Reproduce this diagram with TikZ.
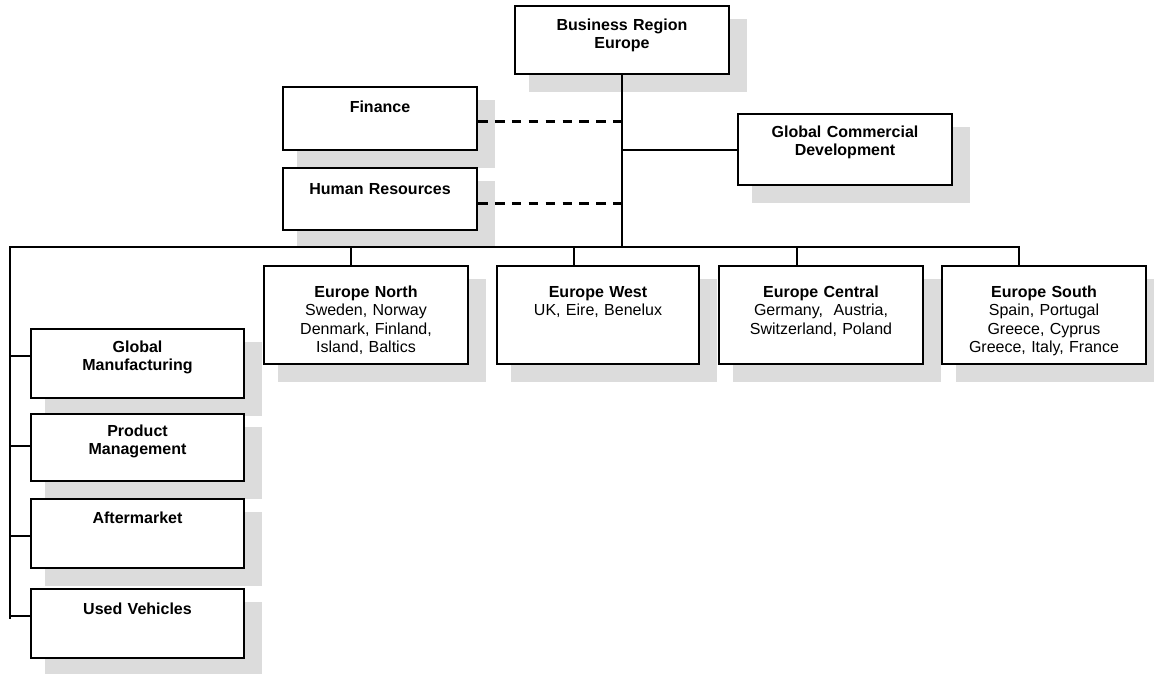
\documentclass[tikz,border=0pt]{standalone}
\usepackage{fontspec}
\setmainfont{Liberation Sans}
\usetikzlibrary{backgrounds}
\definecolor{shadowgray}{RGB}{220,220,220}

\tikzset{
    orgbox/.style = {draw, line width = 2pt, fill = white, inner sep = 0pt,
        align = center, anchor = north west, font = \fontsize{16}{18.4}\selectfont},
    boxdim/.style n args = {3}{text width = #1pt, text height = #2pt, text depth = #3pt},
    link/.style = {line width = 2pt},
    staff/.style = {line width = 3pt, dash pattern = on 9.6pt off 7.3pt},
    boxshadow/.style = {fill = shadowgray}
}

\begin{document}
\begin{tikzpicture}[x = 1pt, y = -1pt]
    \useasboundingbox (0,0) rectangle (1154,673);
    % head and staff
    \node[orgbox, boxdim = {214}{24.5}{43.5}] (bre) at (514,5) {\textbf{Business Region}\\\textbf{Europe}};
    \node[orgbox, boxdim = {194}{25.5}{37.5}] (fin) at (282,86) {\textbf{Finance}};
    \node[orgbox, boxdim = {194}{26.5}{35.5}] (hr) at (282,167) {\textbf{Human Resources}};
    \node[orgbox, boxdim = {214}{23.5}{47.5}] (gcd) at (737,113) {\textbf{Global Commercial}\\\textbf{Development}};
    % regions
    \node[orgbox, boxdim = {204}{31.5}{66.5}] (north) at (263,265) {\textbf{Europe North}\\Sweden, Norway\\Denmark, Finland,\\Island, Baltics};
    \node[orgbox, boxdim = {202}{31.5}{66.5}] (west) at (496,265) {\textbf{Europe West}\\UK, Eire, Benelux};
    \node[orgbox, boxdim = {204}{31.5}{66.5}] (central) at (718,265) {\textbf{Europe Central}\\Germany,\ \ Austria,\\Switzerland, Poland};
    \node[orgbox, boxdim = {204}{31.5}{66.5}] (south) at (941,265) {\textbf{Europe South}\\Spain, Portugal\\Greece, Cyprus\\Greece, Italy, France};
    % global functions
    \node[orgbox, boxdim = {213}{23.5}{45.5}] (gm) at (30,328) {\textbf{Global}\\\textbf{Manufacturing}};
    \node[orgbox, boxdim = {213}{22.5}{44.5}] (pm) at (30,413) {\textbf{Product}\\\textbf{Management}};
    \node[orgbox, boxdim = {213}{24.5}{44.5}] (am) at (30,498) {\textbf{Aftermarket}};
    \node[orgbox, boxdim = {213}{25.5}{43.5}] (uv) at (30,588) {\textbf{Used Vehicles}};

    \begin{scope}[on background layer]
        \foreach \n in {bre, fin, hr, gcd, north, west, central, south, gm, pm, am, uv}
            \fill[boxshadow] ([shift = {(15,14)}]\n.north west) rectangle ([shift = {(17,17)}]\n.south east);
    \end{scope}

    % connectors
    \coordinate (bus) at (10,247);
    \draw[link] (bre.south) -- (bre.south |- bus);
    \draw[link] (gcd.west) -- (gcd.west -| bre.south);
    \draw[staff] ([yshift = -3pt]fin.east) -- ([yshift = -3pt]fin.east -| bre.south);
    \draw[staff] ([yshift = -4pt]hr.east) -- ([yshift = -4pt]hr.east -| bre.south);
    \draw[link] ([yshift = 5pt]uv.west -| bus) -- (bus) -- ([xshift = -25pt]south.north |- bus) -- ([xshift = -25pt]south.north);
    \draw[link] ([xshift = -15pt]north.north) -- ([xshift = -15pt]north.north |- bus);
    \draw[link] ([xshift = -24pt]west.north) -- ([xshift = -24pt]west.north |- bus);
    \draw[link] ([xshift = -24pt]central.north) -- ([xshift = -24pt]central.north |- bus);
    \draw[link] ([yshift = 8pt]gm.west) -- ([yshift = 8pt]gm.west -| bus);
    \draw[link] ([yshift = 2pt]pm.west) -- ([yshift = 2pt]pm.west -| bus);
    \draw[link] ([yshift = -2pt]am.west) -- ([yshift = -2pt]am.west -| bus);
    \draw[link] ([yshift = 8pt]uv.west) -- ([yshift = 8pt]uv.west -| bus);
\end{tikzpicture}
\end{document}
